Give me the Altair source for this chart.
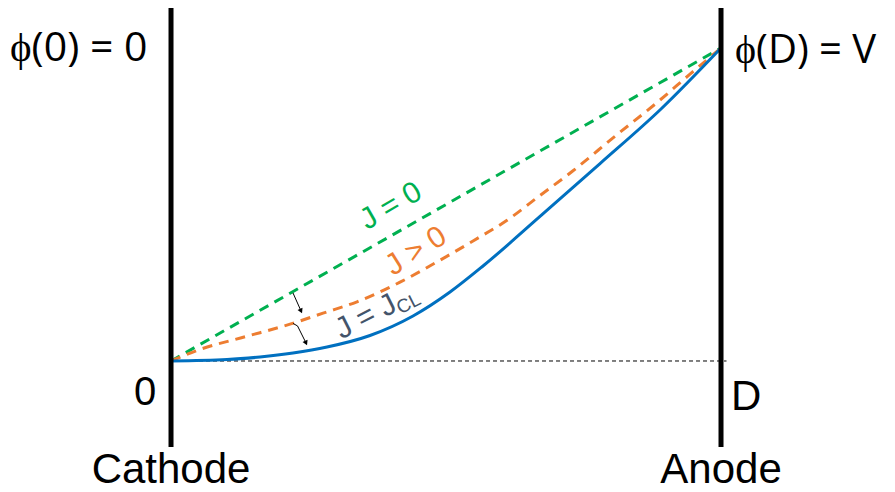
import altair as alt
import pandas as pd

# Normalised position x/D and potential phi/V
green_x = [0.0, 1.0]
green_y = [0.0, 1.0]

orange_x = [0, 0.0527, 0.1345, 0.2164, 0.2764, 0.3382, 0.4164, 0.4891, 0.5491, 0.6109,
            0.6709, 0.7309, 0.8073, 0.8836, 0.9436, 1.0]
orange_y = [0, 0.0371, 0.0773, 0.1176, 0.1527, 0.1891, 0.2518, 0.3220, 0.3834, 0.4495,
            0.5288, 0.6077, 0.7182, 0.8256, 0.9163, 1.0]

blue_x = [0, 0.1018, 0.1618, 0.2218, 0.2836, 0.3618, 0.44, 0.5073, 0.5673, 0.6709,
          0.78, 0.8909, 1.0]
blue_y = [0, 0.0045, 0.0128, 0.0256, 0.0447, 0.0815, 0.1438, 0.2204, 0.3035, 0.4617,
          0.6307, 0.8051, 1.0]

electrode_names = ["Cathode", "Anode"]
electrode_x = [0.0, 1.0]
electrode_bottom = -0.275
electrode_top = 1.128

XD = [-0.2964, 1.3018]
YD = [-0.4122, 1.1278]
W, H = 879, 482

xs = alt.Scale(domain=XD, nice=False, zero=False)
ys = alt.Scale(domain=YD, nice=False, zero=False)


def X(field="x"):
    return alt.X(f"{field}:Q", scale=xs, axis=None)


def Y(field="y"):
    return alt.Y(f"{field}:Q", scale=ys, axis=None)


green = pd.DataFrame({"x": green_x, "y": green_y})
orange = pd.DataFrame({"x": orange_x, "y": orange_y})
blue = pd.DataFrame({"x": blue_x, "y": blue_y})
elec = pd.DataFrame({"name": electrode_names, "x": electrode_x,
                     "y": [electrode_bottom] * 2, "y2": [electrode_top] * 2})
base_line = pd.DataFrame({"x": [0.0], "x2": [1.01], "y": [0.0]})

l_green = alt.Chart(green).mark_line(color="#00B050", strokeWidth=3, strokeDash=[10, 7]).encode(x=X(), y=Y())
l_orange = alt.Chart(orange).mark_line(color="#ED7D31", strokeWidth=3, strokeDash=[10, 7],
                                       interpolate="monotone").encode(x=X(), y=Y())
l_blue = alt.Chart(blue).mark_line(color="#0070C0", strokeWidth=3,
                                   interpolate="monotone").encode(x=X(), y=Y())
l_base = alt.Chart(base_line).mark_rule(color="black", strokeWidth=1, strokeDash=[4, 3]).encode(
    x=X(), x2="x2:Q", y=Y())
l_elec = alt.Chart(elec).mark_rule(color="black", strokeWidth=5).encode(x=X(), y=Y(), y2="y2:Q")

# small arrows
arrows = pd.DataFrame({
    "id": [1, 1, 2, 2, 2],
    "o": [0, 1, 0, 1, 2],
    "x": [0.2218, 0.2364, 0.2218, 0.2300, 0.2455],
    "y": [0.2173, 0.1597, 0.1200, 0.1120, 0.0575],
})
heads = pd.DataFrame({"x": [0.2364, 0.2455], "y": [0.1597, 0.0575]})
l_arrows = alt.Chart(arrows).mark_line(color="black", strokeWidth=1).encode(
    x=X(), y=Y(), detail="id:N", order="o:Q")
l_heads = alt.Chart(heads).mark_point(shape="triangle-down", filled=True, color="black",
                                      size=30, angle=335, opacity=1).encode(x=X(), y=Y())

# labels
labels = pd.DataFrame([
    {"t": "\u03d5(0) = 0", "x": -0.2927, "y": 0.958, "s": 41, "a": "left", "f": "Open Sans", "c": "black"},
    {"t": "\u03d5(D) = V", "x": 1.0255, "y": 0.952, "s": 40, "a": "left", "f": "Open Sans", "c": "black"},
    {"t": "0", "x": -0.027, "y": -0.1406, "s": 40, "a": "right", "f": "Liberation Sans", "c": "black"},
    {"t": "D", "x": 1.018, "y": -0.1565, "s": 42, "a": "left", "f": "Liberation Sans", "c": "black"},
    {"t": "Cathode", "x": 0.0, "y": -0.390, "s": 42, "a": "center", "f": "Liberation Sans", "c": "black"},
    {"t": "Anode", "x": 1.0, "y": -0.390, "s": 42, "a": "center", "f": "Liberation Sans", "c": "black"},
])
rot_labels = pd.DataFrame([
    {"t": "J = 0", "x": 0.40, "y": 0.495, "s": 30, "c": "#00B050", "r": 330},
    {"t": "J > 0", "x": 0.4455, "y": 0.351, "s": 30, "c": "#ED7D31", "r": 328},
    {"t": "J = J", "x": 0.3545, "y": 0.1406, "s": 30, "c": "#44546A", "r": 333},
    {"t": "CL", "x": 0.432, "y": 0.183, "s": 19, "c": "#44546A", "r": 333},
])

text_layers = []
for _, row in labels.iterrows():
    text_layers.append(
        alt.Chart(pd.DataFrame([row])).mark_text(
            align=row["a"], baseline="alphabetic", fontSize=int(row["s"]), font=row["f"],
            color=row["c"]).encode(x=X(), y=Y(), text="t:N"))
for _, row in rot_labels.iterrows():
    text_layers.append(
        alt.Chart(pd.DataFrame([row])).mark_text(
            align="center", baseline="middle", fontSize=int(row["s"]), font="Liberation Sans",
            color=row["c"], angle=int(row["r"])).encode(x=X(), y=Y(), text="t:N"))

chart = alt.layer(l_base, l_green, l_orange, l_blue, l_arrows, l_heads, l_elec, *text_layers).properties(
    width=W, height=H, autosize=alt.AutoSizeParams(type="none"), padding=0
).configure_view(stroke=None)

chart.save("out.html", embed_options={"renderer": "svg", "actions": False})
